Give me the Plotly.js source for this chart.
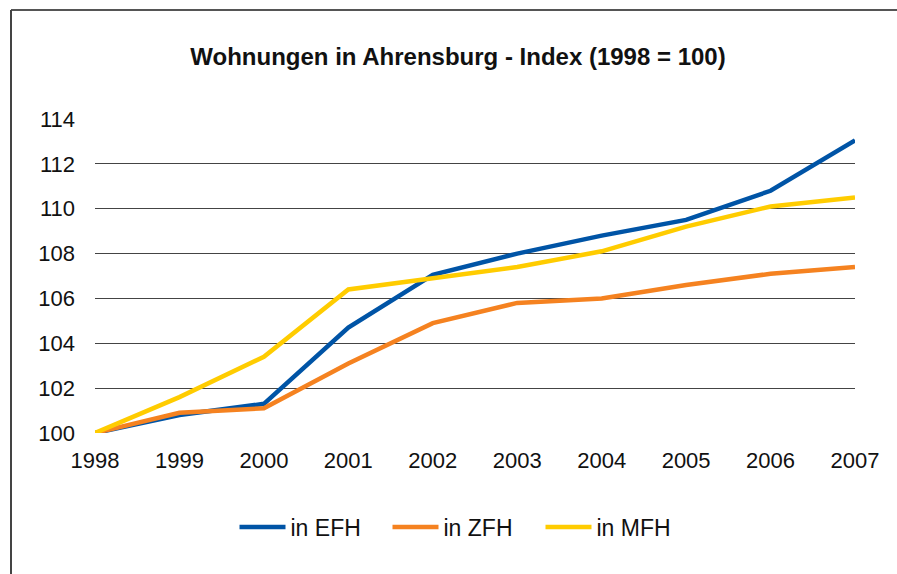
<!DOCTYPE html>
<html><head><meta charset="utf-8">
<script src="https://cdn.plot.ly/plotly-3.0.1.min.js"></script>
<style>html,body{margin:0;padding:0;background:#fff}#chart{width:897px;height:574px}</style>
</head><body><div id="chart"></div>
<script>
const years = [1998, 1999, 2000, 2001, 2002, 2003, 2004, 2005, 2006, 2007];
const efh = [100, 100.8, 101.3, 104.7, 107.05, 108.0, 108.8, 109.5, 110.8, 113.05];
const zfh = [100, 100.9, 101.1, 103.1, 104.9, 105.8, 106.0, 106.6, 107.1, 107.4];
const mfh = [100, 101.6, 103.4, 106.4, 106.9, 107.4, 108.1, 109.2, 110.1, 110.5];
const yTicks = [100, 102, 104, 106, 108, 110, 112, 114];
const names = ['in EFH', 'in ZFH', 'in MFH'];
const colors = ['#0054A6', '#F58220', '#FFCC00'];

const series = [efh, zfh, mfh];
const traces = series.map((s, i) => ({
  x: years, y: s, type: 'scatter', mode: 'lines', name: names[i],
  line: {color: colors[i], width: 4.5}
}));
const W = 897, H = 574;
const m = {l: 95, r: 42, t: 119, b: 141};
const pw = W - m.l - m.r, ph = H - m.t - m.b;
const px = x => (x - m.l) / pw;
const py = y => (H - m.b - y) / ph;
const FONT = 'Liberation Sans, Arial, sans-serif';

const layout = {
  width: W, height: H,
  margin: m,
  paper_bgcolor: '#fff', plot_bgcolor: '#fff',
  font: {family: FONT, color: '#111', size: 22},
  title: {text: '<b>Wohnungen in Ahrensburg - Index (1998 = 100)</b>',
          font: {size: 24, family: FONT, color: '#111'},
          x: px(458), xref: 'paper', xanchor: 'center', y: 1 - 57 / H, yanchor: 'middle'},
  xaxis: {range: [1998, 2007], tickvals: years, ticktext: years.map(String),
          showgrid: false, zeroline: false, showline: false, ticks: '',
          tickfont: {size: 22}, ticklabelstandoff: 12, fixedrange: true},
  yaxis: {range: [100, 114], tickvals: yTicks, showgrid: true, gridcolor: '#444', gridwidth: 1.2,
          zeroline: false, showline: false, ticks: '', tickfont: {size: 22},
          ticklabelstandoff: 19, fixedrange: true},
  showlegend: true,
  legend: {orientation: 'h', x: px(464), xanchor: 'center', y: py(527), yanchor: 'middle',
           font: {size: 23}, itemwidth: 46, entrywidth: 92, entrywidthmode: 'pixels', traceorder: 'normal'},
  shapes: [
    {type: 'line', xref: 'paper', yref: 'paper', x0: px(11), x1: px(897), y0: py(10), y1: py(10),
     line: {color: '#555', width: 2}},
    {type: 'line', xref: 'paper', yref: 'paper', x0: px(11), x1: px(11), y0: py(10), y1: py(574),
     line: {color: '#444', width: 2}}
  ]
};
Plotly.newPlot('chart', traces, layout, {displayModeBar: false, staticPlot: true});
</script></body></html>
